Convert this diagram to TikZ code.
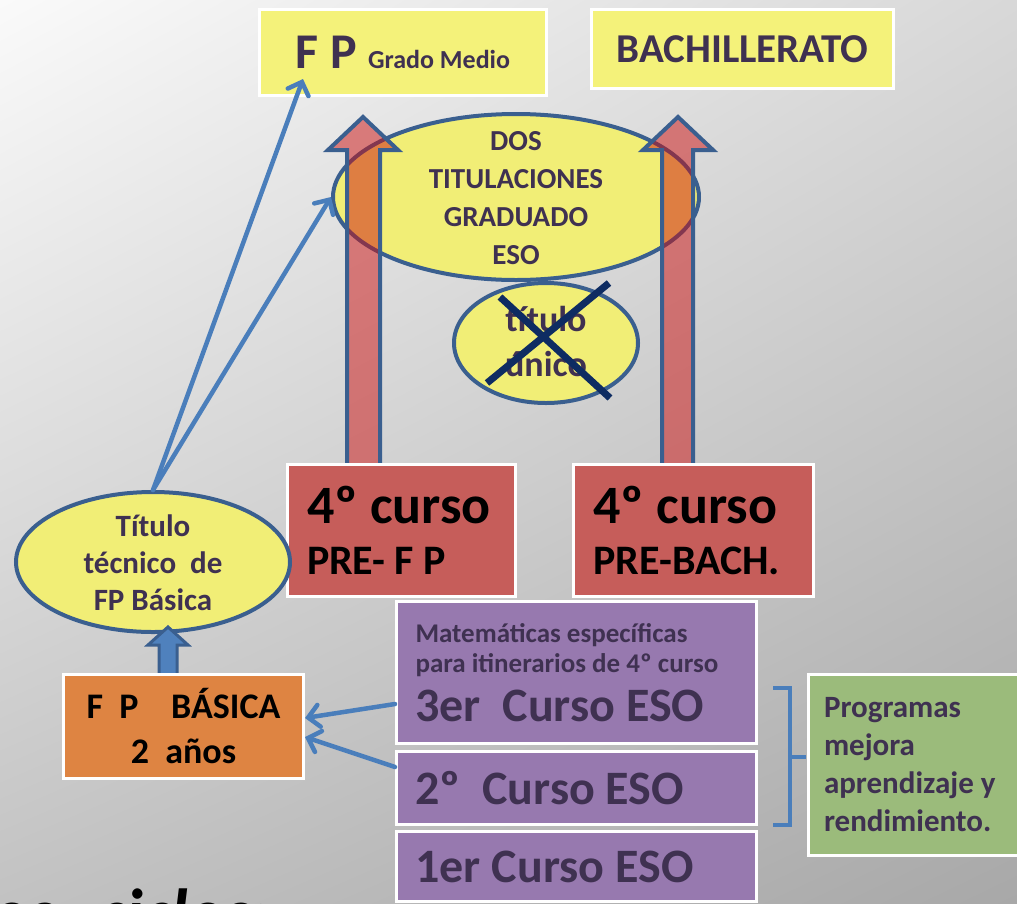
\documentclass[tikz,border=0pt]{standalone}
\usepackage{fontspec}
\setmainfont{Carlito}
\usetikzlibrary{shapes.geometric,arrows.meta,shadings}
\definecolor{txt}{HTML}{3F3151}
\definecolor{ylw}{HTML}{F4F27A}
\definecolor{ell}{HTML}{F1EE76}
\definecolor{bdr}{HTML}{3A5F8F}
\definecolor{azul}{HTML}{4A7EBB}
\definecolor{azulB}{HTML}{4F81BD}
\definecolor{rojo}{HTML}{C65D5A}
\definecolor{rojoT}{HTML}{CC1010}
\definecolor{lila}{HTML}{9779AF}
\definecolor{verde}{HTML}{9BBB7B}
\definecolor{naranja}{HTML}{DE8442}
\definecolor{navy}{HTML}{0E2C62}
\definecolor{bgA}{HTML}{FAFAFA}
\definecolor{bgB}{HTML}{D8D8D8}
\definecolor{bgC}{HTML}{C2C2C2}
\definecolor{bgD}{HTML}{A8A8A8}
\newcommand\fsz[2]{\fontsize{#1}{#2}\selectfont}
\begin{document}
\begin{tikzpicture}[x=1pt,y=-1pt,
  lbl/.style={text=txt,align=center,inner sep=0pt},
  ybox/.style={draw=white,line width=3pt,fill=ylw,text=txt,font=\bfseries,inner sep=0pt},
  rbox/.style={draw=white,line width=3pt,fill=rojo,text=black,font=\bfseries\fsz{42}{51},align=flush left,inner ysep=0pt,inner xsep=20pt,text width=200pt,minimum height=132pt},
  pbox/.style={draw=white,line width=3pt,fill=lila,text=txt,align=flush left,inner ysep=0pt,inner xsep=19pt,text width=322pt},
  elli/.style={ellipse,draw=bdr,line width=4pt,fill=ell,inner sep=0pt},
  flecha/.style={draw=azul,line width=4.5pt,line cap=round,-{Straight Barb[length=11pt,width=22pt,line cap=round]}},
  bloque/.style={draw=bdr,line width=4pt,fill=rojoT,fill opacity=.5,line join=miter}]
\useasboundingbox (0,0) rectangle (1017,903);
\clip (0,0) rectangle (1017,903);
\shade[upper left=bgA,upper right=bgB,lower left=bgC,lower right=bgD] (0,0) rectangle (1017,903);

% destinos
\node[ybox,minimum width=287pt,minimum height=86pt] (gm) at (403,52) {\fsz{50}{60}F P \fsz{26}{30}Grado Medio};
\node[ybox,minimum width=302pt,minimum height=79pt] (bach) at (742.5,49) {\fsz{41}{48}BACHILLERATO};
\coordinate (gmtip) at (303,79);

% titulaciones
\node[elli,minimum width=366pt,minimum height=166pt] (dos) at (516,197) {};
\filldraw[bloque] (347,465) -- (347,150) -- (328,150) -- (363,117) -- (398,150) -- (380,150) -- (380,465) -- cycle;
\filldraw[bloque] (662,465) -- (662,150) -- (643,150) -- (678,117) -- (713,150) -- (693,150) -- (693,465) -- cycle;
\node[lbl,font=\bfseries\fsz{29}{38}] (dosT) at (516,198) {DOS\\TITULACIONES\\GRADUADO\\ESO};
\node[elli,minimum width=184pt,minimum height=120pt] (unico) at (546,343) {};
\node[lbl,font=\bfseries\fsz{36}{45}] (unicoT) at (546,341) {título\\único};
\draw[navy,line width=7pt] (500,297) -- (610,398) (609,283) -- (487,383);

% cuarto curso
\node[rbox,text width=188pt,minimum width=228pt] (pfp) at (401,530) {{\fsz{54}{51}4º curso}\\PRE- F P};
\node[rbox,minimum width=240pt] (pba) at (693.5,530) {{\fsz{54}{51}4º curso}\\PRE-BACH.};

% ESO
\node[pbox,font=\bfseries\fsz{27}{30},minimum height=142pt] (ter) at (576.5,672.5) {Matemáticas específicas\\para itinerarios de 4º curso\\[12pt]{\fsz{48}{30}3er\ \ Curso ESO}};
\node[pbox,font=\bfseries\fsz{48}{50},minimum height=73pt] (seg) at (576.5,788) {2º\ \ Curso ESO};
\node[pbox,font=\bfseries\fsz{48}{50},minimum height=70pt] (pri) at (576.5,866.5) {1er Curso ESO};
\node[draw=white,line width=3pt,fill=verde,text=txt,font=\bfseries\fsz{31}{38},align=flush left,inner ysep=0pt,inner xsep=16pt,text width=185pt,minimum height=181pt,anchor=west] (pmar) at (806.5,765) {Programas\\mejora\\aprendizaje y\\rendimiento.};
\draw[azul,line width=4pt] (773,688) -- (790,688) -- (790,825) -- (773,825) (790,757) -- (806,757);

% FP basica
\node[elli,minimum width=274pt,minimum height=140pt] (tit) at (153,562) {};
\node[lbl,font=\bfseries\fsz{31}{37}] (titT) at (153,563) {Título\\técnico\ \ de\\FP Básica};
\filldraw[draw=bdr,fill=azulB,line width=3pt,line join=miter] (159,677) -- (159,645) -- (148,645) -- (168,627) -- (188,645) -- (177,645) -- (177,677) -- cycle;
\node[draw=white,line width=3pt,fill=naranja,text=black,font=\bfseries\fsz{36}{45},align=center,inner sep=0pt,minimum width=240pt,minimum height=104pt] (fpb) at (183.5,726.5) {F\ \ P\ \ \ \ BÁSICA\\2\ \ años};

\draw[flecha] (tit.north) -- (gmtip);
\draw[flecha] (tit.north) -- (dos.west);
\draw[flecha] ([yshift=-31.5pt]ter.west) -- ([yshift=8.5pt]fpb.east);
\draw[flecha] ([yshift=21pt]seg.west) -- ([yshift=-10.5pt]fpb.east);

\node[anchor=base west,font=\fsz{68}{70}\bfseries\itshape,text=black,inner sep=0pt] (cic) at (-8,936) {os\hspace{44pt}ciclos:};
\end{tikzpicture}
\end{document}
